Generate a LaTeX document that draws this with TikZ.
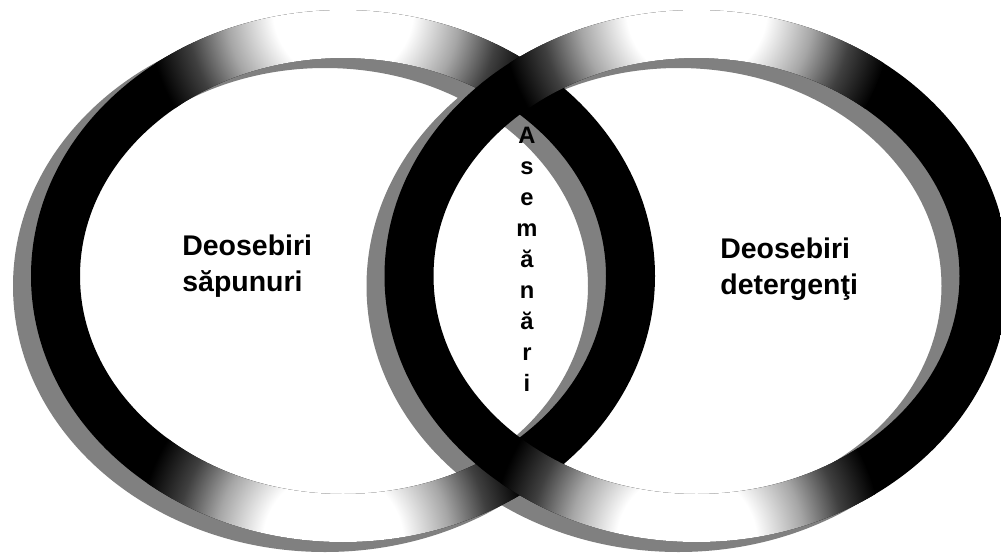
\documentclass[tikz,border=0pt]{standalone}
\usepackage{fontspec}
\setmainfont{Liberation Sans}
\pgfdeclareradialshading{ringglow}{\pgfpoint{0bp}{0bp}}{color(0bp)=(white); color(9bp)=(white); color(15bp)=(black!35); color(20bp)=(black!75); color(25bp)=(black); color(50bp)=(black)}
\tikzset{
  ringshadow/.style={fill=black!50, even odd rule},
  sidetext/.style={font=\bfseries\fontsize{16.2}{20.5}\selectfont, align=left, inner sep=0pt},
  midtext/.style={font=\bfseries\fontsize{13.5}{17.6}\selectfont, align=center, inner sep=0pt}
}
\begin{document}
\begin{tikzpicture}[x=0.02cm,y=0.02cm]
\clip (0,0) rectangle (1001,556);
\fill[white] (0,0) rectangle (1001,556);
\coordinate (cl) at (343,280);
\coordinate (cr) at (696.5,280);
\coordinate (sl) at (325,270);
\coordinate (sr) at (678.5,270);
\path[ringshadow] (sl) ellipse [x radius=312, y radius=266] (sl) ellipse [x radius=263, y radius=218];
\path[ringshadow] (sr) ellipse [x radius=312, y radius=266] (sr) ellipse [x radius=263, y radius=218];
\begin{scope}[even odd rule]
\clip (cl) ellipse [x radius=312, y radius=266] (cl) ellipse [x radius=263, y radius=218];
\fill[black] (0,0) rectangle (1001,556);
\shade[shading=ringglow] ([shift={(0,266)}]cl) circle [radius=195];
\shade[shading=ringglow] ([shift={(-10,-266)}]cl) circle [radius=195];
\end{scope}
\begin{scope}[even odd rule]
\clip (cr) ellipse [x radius=312, y radius=266] (cr) ellipse [x radius=263, y radius=218];
\fill[black] (0,0) rectangle (1001,556);
\shade[shading=ringglow] ([shift={(0,266)}]cr) circle [radius=195];
\shade[shading=ringglow] ([shift={(-10,-266)}]cr) circle [radius=195];
\end{scope}
\node[sidetext, anchor=north west] (soap) at (182,321) {Deosebiri\\săpunuri};
\node[sidetext, anchor=north west] (deterg) at (720,318) {Deosebiri\\detergenţi};
\node[midtext, anchor=north] (common) at (527,429) {A\\s\\e\\m\\ă\\n\\ă\\r\\i};
\end{tikzpicture}
\end{document}
